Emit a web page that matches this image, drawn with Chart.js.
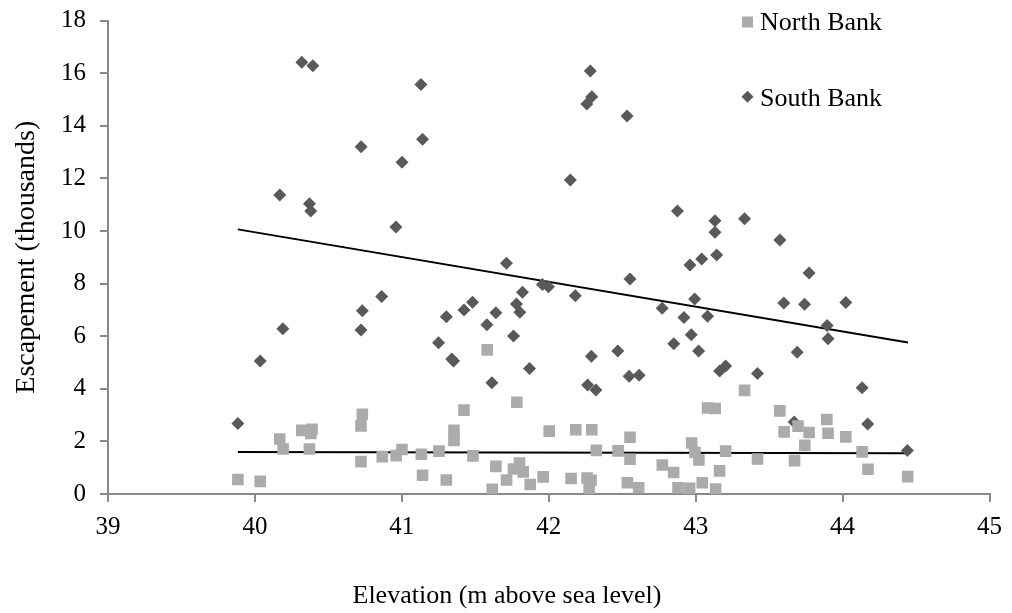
<!DOCTYPE html>
<html>
<head>
<meta charset="utf-8">
<script src="https://cdn.jsdelivr.net/npm/chart.js@4"></script>
<style>
  body { margin: 0; background: #fff; }
  #wrap { width: 1012px; height: 613px; }
</style>
</head>
<body>
<div id="wrap"><canvas id="miGrafico" width="1012" height="613"></canvas></div>
<script>
// elevation (m) and escapement (thousands)
const northX = [39.884, 40.036, 40.169, 40.192, 40.319, 40.389, 40.380, 40.371, 40.731, 40.722, 40.722, 40.867, 40.961, 41.001, 41.133, 41.141, 41.253, 41.303, 41.355, 41.355, 41.423, 41.484, 41.581, 41.615, 41.640, 41.713, 41.760, 41.783, 41.801, 41.826, 41.874, 41.962, 42.003, 42.152, 42.184, 42.261, 42.288, 42.275, 42.293, 42.324, 42.472, 42.535, 42.553, 42.553, 42.612, 42.773, 42.850, 42.880, 42.959, 42.973, 42.995, 43.022, 43.045, 43.081, 43.133, 43.136, 43.163, 43.204, 43.333, 43.421, 43.573, 43.602, 43.673, 43.697, 43.743, 43.772, 43.893, 43.901, 44.022, 44.133, 44.173, 44.443];
const northY = [0.55, 0.48, 2.09, 1.71, 2.42, 2.46, 2.30, 1.71, 3.03, 2.59, 1.23, 1.42, 1.46, 1.69, 1.51, 0.71, 1.63, 0.53, 2.42, 2.04, 3.19, 1.45, 5.48, 0.18, 1.05, 0.53, 0.95, 3.49, 1.18, 0.84, 0.36, 0.65, 2.39, 0.59, 2.44, 0.61, 0.52, 0.21, 2.44, 1.66, 1.64, 0.43, 2.16, 1.32, 0.24, 1.10, 0.82, 0.24, 0.22, 1.94, 1.58, 1.29, 0.43, 3.27, 3.25, 0.19, 0.88, 1.63, 3.94, 1.33, 3.16, 2.36, 1.27, 2.58, 1.85, 2.34, 2.83, 2.31, 2.17, 1.60, 0.94, 0.66];

const southX = [39.884, 40.036, 40.169, 40.190, 40.319, 40.394, 40.371, 40.380, 40.722, 40.731, 40.723, 40.863, 40.960, 41.001, 41.130, 41.141, 41.250, 41.303, 41.340, 41.352, 41.423, 41.481, 41.579, 41.613, 41.640, 41.712, 41.760, 41.780, 41.803, 41.821, 41.869, 41.957, 41.998, 42.147, 42.181, 42.259, 42.293, 42.283, 42.264, 42.290, 42.321, 42.470, 42.533, 42.553, 42.547, 42.615, 42.772, 42.851, 42.876, 42.920, 42.961, 42.970, 42.993, 43.020, 43.041, 43.081, 43.131, 43.131, 43.143, 43.163, 43.204, 43.333, 43.421, 43.573, 43.600, 43.670, 43.691, 43.741, 43.772, 43.895, 43.901, 44.022, 44.133, 44.171, 44.441];
const southY = [2.68, 5.06, 11.37, 6.28, 16.41, 16.28, 11.03, 10.76, 6.23, 6.97, 13.20, 7.51, 10.15, 12.61, 15.57, 13.49, 5.75, 6.74, 5.13, 5.06, 6.99, 7.29, 6.43, 4.23, 6.89, 8.77, 6.01, 7.22, 6.91, 7.67, 4.77, 7.96, 7.88, 11.94, 7.54, 14.83, 15.10, 16.08, 4.14, 5.24, 3.95, 5.44, 14.37, 8.17, 4.48, 4.51, 7.06, 5.71, 10.76, 6.71, 8.71, 6.05, 7.41, 5.44, 8.93, 6.76, 10.39, 9.95, 9.09, 4.68, 4.87, 10.46, 4.58, 9.66, 7.26, 2.74, 5.39, 7.21, 8.40, 6.41, 5.90, 7.28, 4.04, 2.66, 1.65];

// trend line end points as drawn
const trendX = [39.884, 44.445];
const northTrend = [1.60, 1.55];
const southTrend = [10.06, 5.76];

const xTicks = [39, 40, 41, 42, 43, 44, 45];

const toPoints = (xs, ys) => xs.map((x, i) => ({ x: x, y: ys[i] }));

const serif = "'Liberation Serif', 'DejaVu Serif', serif";

const legendPlugin = {
  id: "sideLegend",
  afterDraw(chart) {
    const ctx = chart.ctx;
    ctx.save();
    // north bank square
    ctx.fillStyle = "#ababab";
    ctx.fillRect(742, 16.5, 11, 11);
    // south bank diamond
    ctx.fillStyle = "#595959";
    ctx.beginPath();
    ctx.moveTo(747.5, 90.7);
    ctx.lineTo(753.5, 96.7);
    ctx.lineTo(747.5, 102.7);
    ctx.lineTo(741.5, 96.7);
    ctx.closePath();
    ctx.fill();
    ctx.fillStyle = "#000";
    ctx.font = "26px " + serif;
    ctx.textBaseline = "alphabetic";
    ctx.textAlign = "left";
    ctx.fillText("North Bank", 760, 29.5);
    ctx.fillText("South Bank", 760, 106);
    // x axis title
    ctx.textAlign = "center";
    ctx.fillText("Elevation (m above sea level)", 507, 603);
    ctx.restore();
  },
};

let ctx = document.getElementById("miGrafico").getContext("2d");

let chart = new Chart(ctx, {
  type: "scatter",
  data: {
    datasets: [
      {
        label: "North Bank",
        data: toPoints(northX, northY),
        pointStyle: "rect",
        pointRadius: 8.2,
        pointHoverRadius: 8.2,
        backgroundColor: "#ababab",
        borderColor: "#ababab",
        borderWidth: 0,
      },
      {
        label: "South Bank",
        data: toPoints(southX, southY),
        pointStyle: "rectRot",
        pointRadius: 6.5,
        pointHoverRadius: 6.5,
        backgroundColor: "#595959",
        borderColor: "#595959",
        borderWidth: 0,
      },
      {
        label: "North trend",
        type: "line",
        data: toPoints(trendX, northTrend),
        showLine: true,
        pointRadius: 0,
        borderColor: "#000",
        borderWidth: 2,
        fill: false,
      },
      {
        label: "South trend",
        type: "line",
        data: toPoints(trendX, southTrend),
        showLine: true,
        pointRadius: 0,
        borderColor: "#000",
        borderWidth: 2,
        fill: false,
      },
    ],
  },
  options: {
    responsive: false,
    animation: false,
    events: [],
    layout: { padding: { top: 20.5, right: 21, left: 0, bottom: 0 } },
    plugins: {
      legend: { display: false },
      tooltip: { enabled: false },
    },
    scales: {
      x: {
        type: "linear",
        min: 39,
        max: 45,
        afterBuildTicks: (scale) => {
          scale.ticks = xTicks.map((v) => ({ value: v }));
        },
        afterFit: (scale) => {
          scale.height = 119;
        },
        border: { color: "#898989", width: 2 },
        grid: {
          drawOnChartArea: false,
          drawTicks: true,
          tickLength: 8,
          color: "#898989",
          lineWidth: 2,
        },
        ticks: {
          color: "#000",
          font: { family: serif, size: 25 },
          padding: 10,
          maxRotation: 0,
        },
      },
      y: {
        min: 0,
        max: 18,
        afterFit: (scale) => {
          scale.width = 108;
          scale.paddingTop = 0;
          scale.paddingBottom = 0;
        },
        border: { color: "#898989", width: 2 },
        grid: {
          drawOnChartArea: false,
          drawTicks: true,
          tickLength: 8,
          color: "#898989",
          lineWidth: 2,
        },
        ticks: {
          stepSize: 2,
          color: "#000",
          font: { family: serif, size: 25 },
          padding: 14,
        },
        title: {
          display: true,
          text: "Escapement (thousands)",
          color: "#000",
          font: { family: serif, size: 28 },
          padding: { top: 10, bottom: 0 },
        },
      },
    },
  },
  plugins: [legendPlugin],
});
</script>
</body>
</html>
